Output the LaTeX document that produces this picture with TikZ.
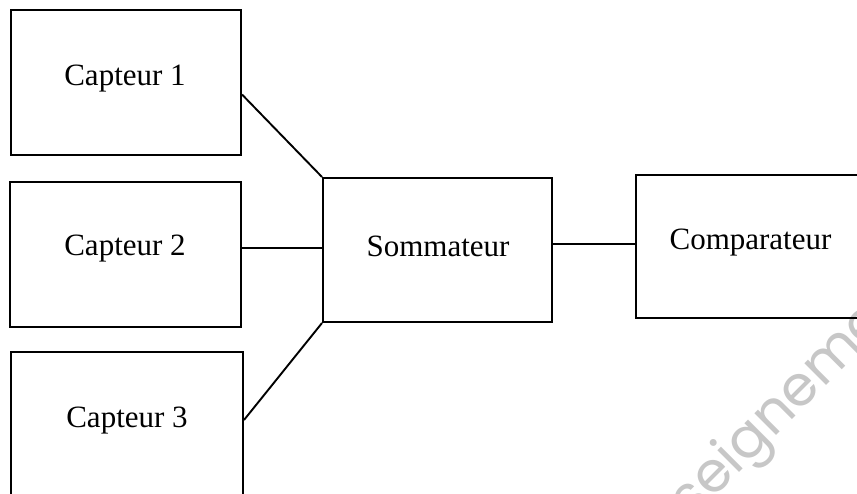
\documentclass[tikz,border=0pt]{standalone}
\usepackage{fontspec}
\setmainfont{Liberation Serif}
\newfontfamily\wmfont{Poppins}
\usetikzlibrary{calc}
\begin{document}
\begin{tikzpicture}[x=1pt,y=-1pt,
  box/.style={draw=black,line width=2pt,rectangle,inner sep=0pt},
  lbl/.style={inner sep=0pt,font=\fontsize{31}{36}\selectfont},
  link/.style={draw=black,line width=1.9pt},
  wm/.style={inner sep=0pt,text=black!22,font=\wmfont\fontsize{56}{66}\selectfont}]
\useasboundingbox (0,0) rectangle (857,494);
\clip (0,0) rectangle (857,494);
\fill[white] (0,0) rectangle (857,494);
% watermark
\node[wm,anchor=base west,rotate=45] (wmk) at (712,500) {\llap{s}eigneme};
% boxes
\node[box,minimum width=230pt,minimum height=145pt] (c1) at (126,82.5) {};
\node[box,minimum width=231pt,minimum height=145pt] (c2) at (125.5,254.5) {};
\node[box,minimum width=232pt,minimum height=145pt] (c3) at (127,424.5) {};
\node[box,minimum width=229pt,minimum height=144pt] (sum) at (437.5,250) {};
\node[box,minimum width=230pt,minimum height=143pt] (cmp) at (751,246.5) {};
% labels
\node[lbl] (t1) at (125,79) {Capteur 1};
\node[lbl] (t2) at (125,249) {Capteur 2};
\node[lbl] (t3) at (127,421) {Capteur 3};
\node[lbl] (ts) at (438,246) {Sommateur};
\node[lbl] (tc) at (750.5,243) {Comparateur};
% connectors
\draw[link] ([yshift=-12pt]c1.east) -- (sum.north west);
\draw[link] ([yshift=6.5pt]c2.east) -- ([yshift=2pt]sum.west);
\draw[link] ([yshift=4.5pt]c3.east) -- (sum.south west);
\draw[link] ([yshift=6pt]sum.east) -- ([yshift=2.5pt]cmp.west);
\end{tikzpicture}
\end{document}
